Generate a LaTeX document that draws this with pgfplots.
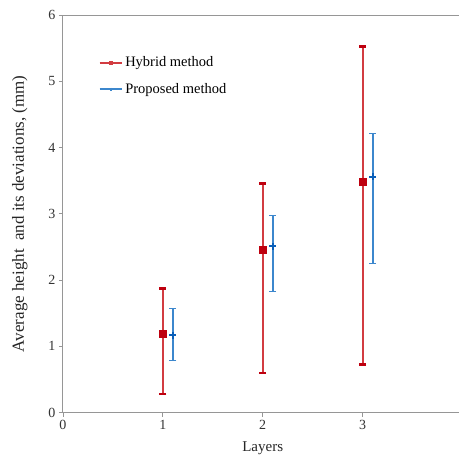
\documentclass[border=0pt]{standalone}
\usepackage{fontspec}
\setmainfont{Liberation Serif}
\usepackage{pgfplots}
\pgfplotsset{compat=1.18}

\definecolor{hybred}{RGB}{210,60,65}
\definecolor{hybdot}{RGB}{190,0,15}
\definecolor{propblue}{RGB}{60,135,205}
\definecolor{propdot}{RGB}{10,95,185}
\definecolor{axgray}{RGB}{150,150,150}

\begin{document}
\begin{tikzpicture}
\begin{axis}[
    scale only axis,
    width=396pt, height=398pt,
    xmin=0, xmax=3.96, ymin=0, ymax=6,
    xtick={0,1,2,3}, ytick={0,1,...,6},
    axis x line=box, axis y line=left,
    y axis line style={-},
    axis line style={axgray, line width=0.9pt},
    xtick pos=left, ytick pos=left,
    tick align=outside, major tick length=4pt,
    tick style={axgray, line width=0.8pt},
    ticklabel style={font=\fontsize{14}{16}\selectfont, text=black!80},
    /pgf/number format/assume math mode=true,
    xlabel={Layers}, ylabel={Average height\ \ and its deviations, (mm)},
    xlabel style={font=\fontsize{15}{17}\selectfont, text=black!85,
        at={(axis description cs:0.505,-0.09)}, anchor=center},
    ylabel style={font=\fontsize{17}{19}\selectfont, text=black!85,
        at={(axis description cs:-0.109,0.5)}, anchor=center, rotate=0},
    clip=false,
    legend style={draw=none, fill=none, at={(0.09,0.905)}, anchor=north west,
        font=\fontsize{14.5}{16}\selectfont, row sep=11pt,
        legend cell align=left, inner xsep=0pt},
    legend image code/.code={
        \draw[#1, sharp plot, mark repeat=2, mark phase=2, mark options={scale=0.4}]
            plot coordinates {(0cm,0cm) (0.4cm,0cm) (0.8cm,0cm)};
    },
]
\addplot[hybred, line width=1.8pt, mark=square*, mark size=3.2pt,
    mark options={hybdot, fill=hybdot},
    only marks,
    error bars/.cd, y dir=both, y explicit,
    error mark=|, error bar style={hybred, line width=1.9pt},
    error mark options={hybdot, line width=2.6pt, mark size=3.5pt}]
    coordinates {
    (1,1.19) += (0,0.68) -= (0,0.91)
    (2,2.45) += (0,1.01) -= (0,1.85)
    (3,3.48) += (0,2.04) -= (0,2.75)
    };
\addlegendentry{Hybrid method}
\addplot[propblue, line width=1.8pt, mark=+, mark size=3.5pt,
    mark options={propdot, line width=2.2pt},
    only marks,
    error bars/.cd, y dir=both, y explicit,
    error mark=|, error bar style={propblue, line width=1.9pt},
    error mark options={propblue, line width=0.8pt, mark size=3.5pt}]
    coordinates {
    (1.1,1.17) += (0,0.40) -= (0,0.38)
    (2.1,2.51) += (0,0.46) -= (0,0.68)
    (3.1,3.56) += (0,0.66) -= (0,1.31)
    };
\addlegendentry{Proposed method}
\path (rel axis cs:0,1) -- ++(0,15pt);
\path (rel axis cs:0,0) -- ++(-63pt,-46pt);
\end{axis}
\end{tikzpicture}
\end{document}
